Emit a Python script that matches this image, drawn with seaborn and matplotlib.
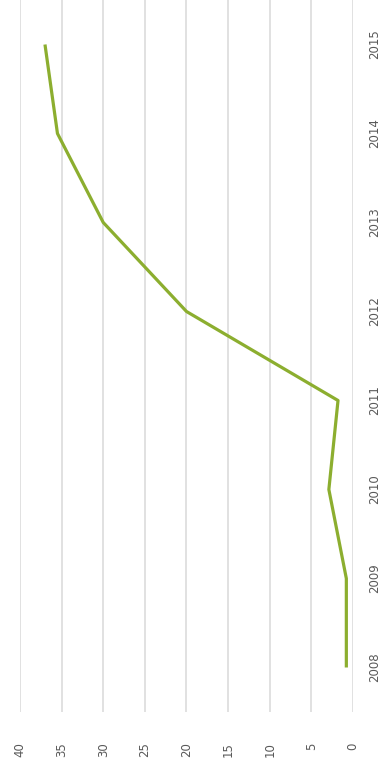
import matplotlib
matplotlib.use("Agg")
import matplotlib.pyplot as plt
import seaborn as sns
import pandas as pd

years = [2008, 2009, 2010, 2011, 2012, 2013, 2014, 2015]
values = [0.8, 0.8, 2.9, 1.8, 20.0, 30.0, 35.5, 37.0]
value_ticks = [0, 5, 10, 15, 20, 25, 30, 35, 40]

df = pd.DataFrame({"year": years, "value": values})

sns.set_theme(style="white")
plt.rcParams["font.family"] = ["DejaVu Sans"]

W, H = 387, 763
fig = plt.figure(figsize=(W / 100, H / 100), dpi=100)
ax = fig.add_axes([20 / W, (H - 712) / H, (353 - 20) / W, 712 / H])

sns.lineplot(data=df, x="value", y="year", sort=False, estimator=None,
             orient="y", color="#8cae2f", linewidth=2.3, ax=ax,
             solid_joinstyle="round", solid_capstyle="butt")

ax.set_xlim(40, 0)
ax.set_ylim(2007.5, 2015.5)
ax.set_xticks(value_ticks)
ax.set_yticks(years)
ax.set_xticklabels([str(v) for v in value_ticks], rotation=90)
ax.set_yticklabels([str(y) for y in years], rotation=90, va="center")
ax.yaxis.tick_right()
ax.grid(axis="x", color="#dedede", linewidth=1.3)
ax.grid(axis="y", visible=False)
for s in ax.spines.values():
    s.set_visible(False)
ax.tick_params(axis="x", length=0, pad=22, labelsize=8.5, labelcolor="#595959")
ax.tick_params(axis="y", length=0, pad=11, labelsize=8.5, labelcolor="#595959")
ax.set_xlabel("")
ax.set_ylabel("")
ax.set_axisbelow(True)

fig.savefig("out.png", dpi=100, facecolor="white")
